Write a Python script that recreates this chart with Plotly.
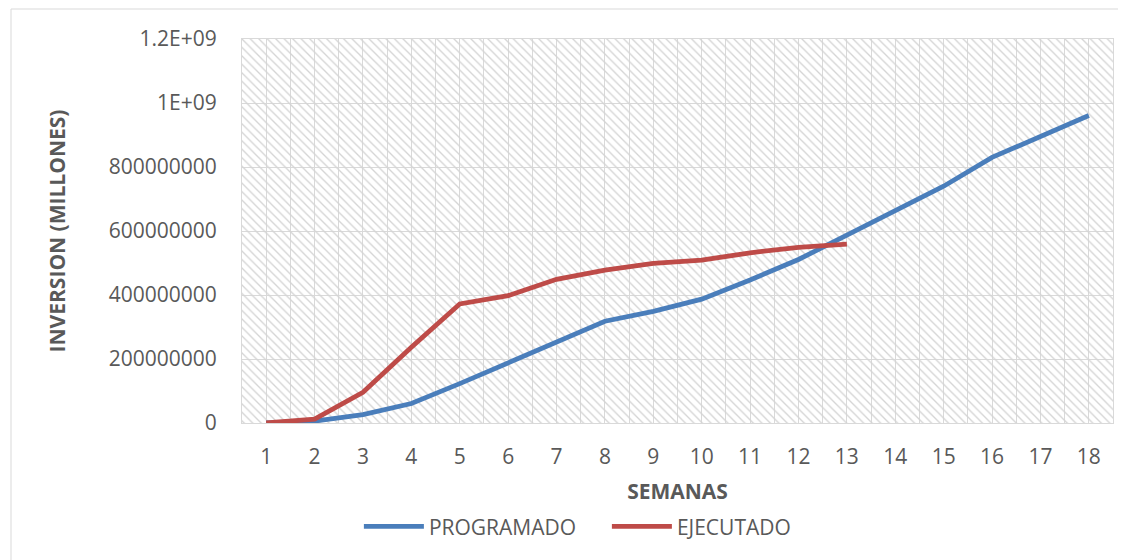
import plotly.graph_objects as go

semanas = list(range(1, 19))
programado = [0, 6e6, 26e6, 61e6, 123e6, 188e6, 252e6, 318e6, 349e6, 387e6,
              447e6, 511e6, 587e6, 662e6, 740e6, 830e6, 896e6, 961e6]
semanas_ejec = list(range(1, 14))
ejecutado = [0, 12e6, 96e6, 237e6, 372e6, 398e6, 449e6, 478e6, 499e6, 509e6,
             532e6, 549e6, 559e6]
y_tickvals = [0, 2e8, 4e8, 6e8, 8e8, 1e9, 1.2e9]
y_ticktext = ["0", "200000000", "400000000", "600000000", "800000000", "1E+09", "1.2E+09"]

x_range = [0.5, 18.5]
y_range = [0, 1.2e9]

FONT = "Open Sans"
TXT = "#595959"
GRID = "#d9d9d9"
OFF = 8  # default page body margin

fig = go.Figure()

# hatched plot-area background
fig.add_trace(go.Bar(
    x=[(x_range[0] + x_range[1]) / 2], y=[y_range[1] - y_range[0]], base=[y_range[0]],
    width=[x_range[1] - x_range[0]],
    marker=dict(color="rgba(0,0,0,0)", line=dict(width=0),
                pattern=dict(shape="\\", fgcolor="#d4d4d4", bgcolor="rgba(0,0,0,0)",
                             size=6, solidity=0.22, fillmode="replace")),
    showlegend=False, hoverinfo="skip"))

fig.add_trace(go.Scatter(x=semanas, y=programado, mode="lines", name="PROGRAMADO",
                         line=dict(color="#4A7EBB", width=4.8)))
fig.add_trace(go.Scatter(x=semanas_ejec, y=ejecutado, mode="lines", name="EJECUTADO",
                         line=dict(color="#BE4B48", width=4.8)))

fig.update_layout(
    width=1126 - OFF, height=560 - OFF,
    margin=dict(l=242 - OFF, r=13, t=39 - OFF, b=137),
    paper_bgcolor="white", plot_bgcolor="white",
    font=dict(family=FONT, size=21, color=TXT),
    bargap=0,
    legend=dict(orientation="h", x=0.1342, y=-0.2166, xanchor="left", yanchor="top",
                font=dict(size=21, color=TXT), itemwidth=60, entrywidth=173,
                traceorder="normal"),
    shapes=[dict(type="rect", xref="paper", yref="paper",
                 x0=-231 / 871, x1=1.05, y0=-0.5, y1=1 + 30 / 384,
                 line=dict(color="#d9d9d9", width=1), layer="below")],
)

fig.update_xaxes(
    range=x_range, tickmode="array", tickvals=semanas,
    ticktext=[str(s) for s in semanas],
    showgrid=True, gridcolor=GRID, gridwidth=1,
    minor=dict(tickmode="linear", tick0=0.5, dtick=1, showgrid=True, gridcolor=GRID, gridwidth=1),
    showline=True, linecolor=GRID, linewidth=1, mirror=True,
    ticks="", ticklabelstandoff=15, zeroline=False,
    tickfont=dict(size=21, color=TXT),
    title=dict(text="<b>SEMANAS</b>", font=dict(size=21, color=TXT), standoff=15),
)
fig.update_yaxes(
    range=y_range, tickmode="array", tickvals=y_tickvals, ticktext=y_ticktext,
    showgrid=True, gridcolor=GRID, gridwidth=1,
    showline=True, linecolor=GRID, linewidth=1, mirror=True,
    ticks="", ticklabelstandoff=20, zeroline=False,
    tickfont=dict(size=21, color=TXT),
    title=dict(text="<b>INVERSION (MILLONES)</b>", font=dict(size=21, color=TXT), standoff=37),
)

fig.write_html("out.html")
